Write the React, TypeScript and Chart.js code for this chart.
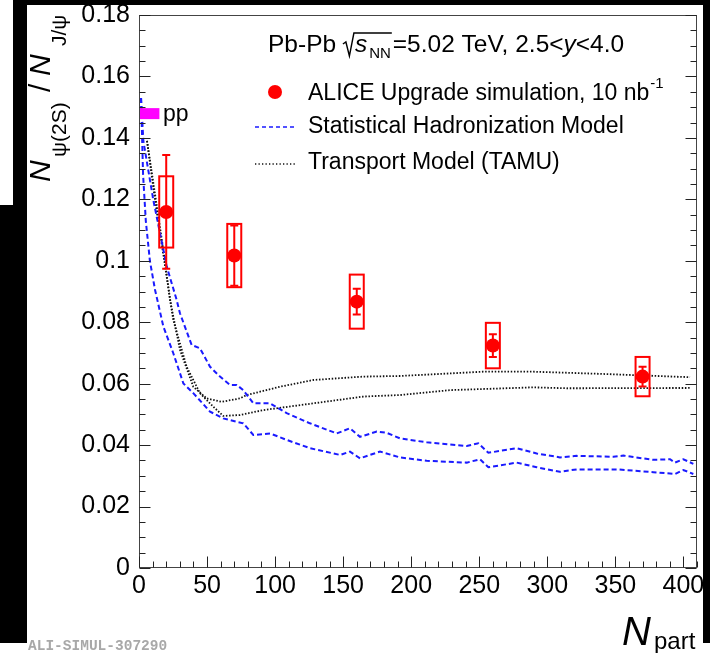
import React, { useEffect, useRef } from "react";
import { Chart, registerables } from "chart.js";

Chart.register(...registerables);

// ---------- data ----------
const npart = [20, 70, 160, 260, 370];
const ratio = [0.1159, 0.1017, 0.0867, 0.0724, 0.0623];
const statErr = [0.0185, 0.0098, 0.0042, 0.0037, 0.0032];
const systErr = [0.0116, 0.0103, 0.0088, 0.0074, 0.0064];

const ppRange = [0, 15];
const ppValue = 0.1479;

const shmUpper: [number, number][] = [
  [1.5, 0.153], [3.2, 0.139], [9.3, 0.123], [10.5, 0.1198], [20.4, 0.0981],
  [27.7, 0.0872], [30.1, 0.0829], [38.7, 0.0726], [44.8, 0.0715], [52.2, 0.0655],
  [59.5, 0.0623], [66.9, 0.0596], [71.8, 0.0596], [76.6, 0.0579], [84.0, 0.0536],
  [96.3, 0.0536], [108.5, 0.0504], [125.6, 0.0471], [145.3, 0.0438], [155.0, 0.0455],
  [162.4, 0.0427], [174.7, 0.0444], [182.0, 0.044], [191.8, 0.0422], [211.4, 0.0409],
  [240.8, 0.0397], [249.3, 0.0406], [256.7, 0.0375], [277.5, 0.039], [292.2, 0.0373],
  [309.3, 0.036], [321.6, 0.0365], [348.5, 0.0362], [355.9, 0.0366], [377.9, 0.0352],
  [390.2, 0.0354], [393.8, 0.0343], [400.0, 0.0354], [407.3, 0.0339],
];

const shmLower: [number, number][] = [
  [1.5, 0.153], [3.0, 0.128], [5.0, 0.113], [8.0, 0.1], [11.8, 0.0905],
  [17.9, 0.0786], [25.2, 0.0699], [32.6, 0.0601], [39.9, 0.0569], [52.2, 0.0509],
  [61.9, 0.0487], [71.8, 0.0476], [76.6, 0.0471], [84.0, 0.0433], [96.3, 0.0438],
  [108.5, 0.0417], [125.6, 0.039], [147.7, 0.0368], [155.0, 0.0379], [162.4, 0.0357],
  [177.1, 0.0379], [191.8, 0.036], [211.4, 0.0349], [240.8, 0.0343], [250.6, 0.0354],
  [256.7, 0.0328], [277.5, 0.0343], [292.2, 0.0328], [309.2, 0.0313], [321.6, 0.0321],
  [351.0, 0.0321], [377.9, 0.0312], [393.8, 0.0306], [400.0, 0.0319], [407.3, 0.0306],
];

const tamuUpper: [number, number][] = [
  [5.9, 0.139], [12.0, 0.121], [17.9, 0.1035], [22.8, 0.0872], [30.1, 0.071],
  [39.9, 0.059], [49.7, 0.0552], [60.8, 0.0541], [74.2, 0.0552], [79.1, 0.0563],
  [103.6, 0.059], [128.1, 0.0612], [164.8, 0.0623], [191.8, 0.0625], [253.0, 0.0639],
  [289.7, 0.0639], [338.7, 0.0632], [404.9, 0.0621],
];

const tamuLower: [number, number][] = [
  [5.9, 0.139], [12.0, 0.119], [17.9, 0.1019], [25.2, 0.0807], [35.0, 0.0655],
  [44.8, 0.0569], [54.6, 0.0525], [61.9, 0.0495], [74.2, 0.0498], [91.3, 0.0514],
  [128.1, 0.0536], [164.8, 0.0558], [191.8, 0.0563], [228.5, 0.0579], [289.7, 0.0588],
  [314.3, 0.0585], [404.9, 0.0586],
];

const xMax = 410;
const yMax = 0.18;
const xMajorStep = 50;
const xMinorStep = 10;
const yMajorStep = 0.02;
const yMinorStep = 0.005;

const legendLabels = [
  "ALICE Upgrade simulation, 10 nb",
  "Statistical Hadronization Model",
  "Transport Model (TAMU)",
];

// ---------- styles ----------
const FONT = "'Liberation Sans', Arial, Helvetica, sans-serif";
const RED = "#ff0000";
const BLUE = "#1a1aff";
const BLACK = "#111111";

const bgPlugin = {
  id: "bgPanels",
  beforeDraw(chart: any) {
    const ctx = chart.ctx;
    ctx.save();
    ctx.fillStyle = "#ffffff";
    ctx.fillRect(0, 0, chart.width, chart.height);
    ctx.fillStyle = "#000000";
    ctx.fillRect(13, 0, chart.width - 13, 5);
    ctx.fillRect(13, 0, 14, 643);
    ctx.fillRect(0, 205, 27, 438);
    ctx.fillRect(703, 0, 7, 643);
    ctx.restore();
  },
};

const errorPlugin = {
  id: "errorBoxes",
  afterDatasetsDraw(chart: any) {
    const { ctx, scales } = chart;
    const xs = scales.x;
    const ys = scales.y;
    ctx.save();
    ctx.strokeStyle = RED;
    ctx.lineWidth = 2;
    for (let i = 0; i < npart.length; i++) {
      const px = xs.getPixelForValue(npart[i]);
      const top = ys.getPixelForValue(ratio[i] + systErr[i]);
      const bot = ys.getPixelForValue(ratio[i] - systErr[i]);
      ctx.strokeRect(px - 7, top, 14, bot - top);
      const et = ys.getPixelForValue(ratio[i] + statErr[i]);
      const eb = ys.getPixelForValue(ratio[i] - statErr[i]);
      ctx.beginPath();
      ctx.moveTo(px, et);
      ctx.lineTo(px, eb);
      ctx.moveTo(px - 4, et);
      ctx.lineTo(px + 4, et);
      ctx.moveTo(px - 4, eb);
      ctx.lineTo(px + 4, eb);
      ctx.stroke();
    }
    ctx.restore();
  },
};

const framePlugin = {
  id: "frameTicks",
  afterDraw(chart: any) {
    const { ctx, chartArea: a, scales } = chart;
    const xs = scales.x;
    const ys = scales.y;
    const L = Math.round(a.left) + 0.5;
    const R = Math.round(a.right) - 0.5;
    const T = Math.round(a.top) + 0.5;
    const B = Math.round(a.bottom) - 0.5;
    ctx.save();
    ctx.strokeStyle = "#444444";
    ctx.lineWidth = 1;
    ctx.strokeRect(L, T, R - L, B - T);
    ctx.strokeStyle = "#222222";
    ctx.beginPath();
    const nY = Math.round(yMax / yMinorStep);
    for (let i = 0; i <= nY; i++) {
      const v = i * yMinorStep;
      const py = Math.round(ys.getPixelForValue(v)) + 0.5;
      const len = i % Math.round(yMajorStep / yMinorStep) === 0 ? 11 : 6;
      ctx.moveTo(L, py);
      ctx.lineTo(L + len, py);
      ctx.moveTo(R, py);
      ctx.lineTo(R - len, py);
    }
    const nX = Math.floor(xMax / xMinorStep);
    for (let i = 0; i <= nX; i++) {
      const v = i * xMinorStep;
      const px = Math.round(xs.getPixelForValue(v)) + 0.5;
      const len = v % xMajorStep === 0 ? 11 : 6;
      ctx.moveTo(px, B);
      ctx.lineTo(px, B - len);
    }
    ctx.stroke();
    ctx.restore();
  },
};

const textPlugin = {
  id: "texts",
  afterDraw(chart: any) {
    const ctx = chart.ctx;
    ctx.save();
    ctx.fillStyle = "#000";
    ctx.textAlign = "left";
    ctx.textBaseline = "alphabetic";

    // header
    let cx = 268;
    const by = 52;
    ctx.font = `24.5px ${FONT}`;
    ctx.fillText("Pb-Pb", cx, by);
    cx += ctx.measureText("Pb-Pb ").width;
    const rx = cx;
    const sx = rx + 12;
    ctx.font = `italic 24.5px ${FONT}`;
    ctx.fillText("s", sx, by);
    const nnx = sx + ctx.measureText("s").width + 2;
    ctx.font = `15px ${FONT}`;
    ctx.fillText("NN", nnx, by + 6);
    const endR = nnx + ctx.measureText("NN").width + 1;
    ctx.strokeStyle = "#000";
    ctx.lineWidth = 1.4;
    ctx.beginPath();
    ctx.moveTo(rx, by - 8);
    ctx.lineTo(rx + 3, by - 10);
    ctx.lineTo(rx + 6.5, by + 4);
    ctx.lineTo(rx + 11, by - 19);
    ctx.lineTo(endR, by - 19);
    ctx.stroke();
    cx = endR + 1;
    ctx.font = `24.5px ${FONT}`;
    ctx.fillText("=5.02 TeV, 2.5<", cx, by);
    cx += ctx.measureText("=5.02 TeV, 2.5<").width;
    ctx.font = `italic 24.5px ${FONT}`;
    ctx.fillText("y", cx, by);
    cx += ctx.measureText("y").width;
    ctx.font = `24.5px ${FONT}`;
    ctx.fillText("<4.0", cx, by);

    // legend
    ctx.fillStyle = RED;
    ctx.beginPath();
    ctx.arc(275, 92, 7, 0, Math.PI * 2);
    ctx.fill();
    ctx.fillStyle = "#000";
    ctx.font = `23px ${FONT}`;
    ctx.fillText(legendLabels[0], 308, 100);
    const w0 = ctx.measureText(legendLabels[0]).width;
    ctx.font = `15px ${FONT}`;
    ctx.fillText("-1", 308 + w0 + 1, 88);

    ctx.strokeStyle = BLUE;
    ctx.lineWidth = 1.6;
    ctx.setLineDash([4, 3]);
    ctx.beginPath();
    ctx.moveTo(255, 127);
    ctx.lineTo(297, 127);
    ctx.stroke();
    ctx.strokeStyle = BLACK;
    ctx.lineWidth = 1.5;
    ctx.setLineDash([1.3, 2.2]);
    ctx.beginPath();
    ctx.moveTo(255, 164);
    ctx.lineTo(297, 164);
    ctx.stroke();
    ctx.setLineDash([]);
    ctx.font = `23px ${FONT}`;
    ctx.fillText(legendLabels[1], 308, 133);
    ctx.fillText(legendLabels[2], 308, 169);

    // pp label
    ctx.fillText("pp", 163, 121);

    // y title (rotated)
    ctx.save();
    ctx.translate(50, 182);
    ctx.rotate(-Math.PI / 2);
    ctx.font = `italic 30px ${FONT}`;
    ctx.fillText("N", 0, 0);
    ctx.font = `21px ${FONT}`;
    ctx.fillText("\u03C8(2S)", 25, 16);
    ctx.font = `30px ${FONT}`;
    ctx.fillText("/", 90, 0);
    ctx.font = `italic 30px ${FONT}`;
    ctx.fillText("N", 106, 0);
    ctx.font = `21px ${FONT}`;
    ctx.fillText("J/\u03C8", 136, 16);
    ctx.restore();

    // x title
    ctx.font = `italic 40px ${FONT}`;
    ctx.fillText("N", 622, 645);
    ctx.font = `24px ${FONT}`;
    ctx.fillText("part", 654, 649);

    // watermark
    ctx.fillStyle = "#a8a8a8";
    ctx.font = `bold 14.5px 'Liberation Mono', 'DejaVu Sans Mono', monospace`;
    ctx.fillText("ALI-SIMUL-307290", 28, 650);
    ctx.restore();
  },
};

const toXY = (arr: [number, number][]) => arr.map(([x, y]) => ({ x, y }));

export default function App() {
  const ref = useRef<HTMLCanvasElement | null>(null);
  useEffect(() => {
    if (!ref.current) return;
    const chart = new Chart(ref.current, {
      type: "line",
      data: {
        datasets: [
          {
            label: "ALICE",
            data: npart.map((v, i) => ({ x: v, y: ratio[i] })),
            showLine: false,
            pointRadius: 7,
            pointBorderWidth: 0,
            pointBackgroundColor: RED,
            pointBorderColor: RED,
            borderColor: RED,
            backgroundColor: RED,
          },
          {
            label: "pp",
            data: ppRange.map((v) => ({ x: v, y: ppValue })),
            borderColor: "#ff00ff",
            borderWidth: 11,
            borderCapStyle: "butt",
            pointRadius: 0,
          },
          {
            label: "SHM upper",
            data: toXY(shmUpper),
            borderColor: BLUE,
            borderWidth: 2,
            borderDash: [5, 3],
            pointRadius: 0,
            tension: 0,
          },
          {
            label: "SHM lower",
            data: toXY(shmLower),
            borderColor: BLUE,
            borderWidth: 2,
            borderDash: [5, 3],
            pointRadius: 0,
            tension: 0,
          },
          {
            label: "TAMU upper",
            data: toXY(tamuUpper),
            borderColor: BLACK,
            borderWidth: 1.8,
            borderDash: [1.5, 1.7],
            pointRadius: 0,
            tension: 0,
          },
          {
            label: "TAMU lower",
            data: toXY(tamuLower),
            borderColor: BLACK,
            borderWidth: 1.8,
            borderDash: [1.5, 1.7],
            pointRadius: 0,
            tension: 0,
          },
        ],
      } as any,
      options: {
        animation: false,
        responsive: false,
        devicePixelRatio: 1,
        events: [],
        layout: { padding: { left: 0, right: 13, top: 15, bottom: 0 } },
        plugins: {
          legend: { display: false },
          tooltip: { enabled: false },
          title: { display: false },
        },
        scales: {
          x: {
            type: "linear",
            min: 0,
            max: xMax,
            grid: { display: false, drawTicks: false },
            border: { display: false },
            ticks: {
              stepSize: xMajorStep,
              includeBounds: false,
              autoSkip: false,
              maxRotation: 0,
              minRotation: 0,
              padding: 3,
              color: "#000",
              font: { family: FONT, size: 25 },
              callback: (v: any) => String(v),
            },
            afterFit: (s: any) => {
              s.height = 85;
              s.paddingLeft = 0;
              s.paddingRight = 0;
              s.paddingTop = 0;
              s.paddingBottom = 0;
            },
          },
          y: {
            type: "linear",
            min: 0,
            max: yMax,
            grid: { display: false, drawTicks: false },
            border: { display: false },
            ticks: {
              stepSize: yMajorStep,
              autoSkip: false,
              padding: 9,
              color: "#000",
              font: { family: FONT, size: 25 },
              callback: (v: any) => String(Number(Number(v).toFixed(3))),
            },
            afterFit: (s: any) => {
              s.width = 139;
              s.paddingLeft = 0;
              s.paddingRight = 0;
              s.paddingTop = 0;
              s.paddingBottom = 0;
            },
          },
        },
      } as any,
      plugins: [bgPlugin, errorPlugin, framePlugin, textPlugin],
    });
    return () => chart.destroy();
  }, []);

  return (
    <div style={{ position: "fixed", left: 0, top: 0, width: 710, height: 653 }}>
      <canvas ref={ref} width={710} height={653} style={{ display: "block" }} />
    </div>
  );
}
